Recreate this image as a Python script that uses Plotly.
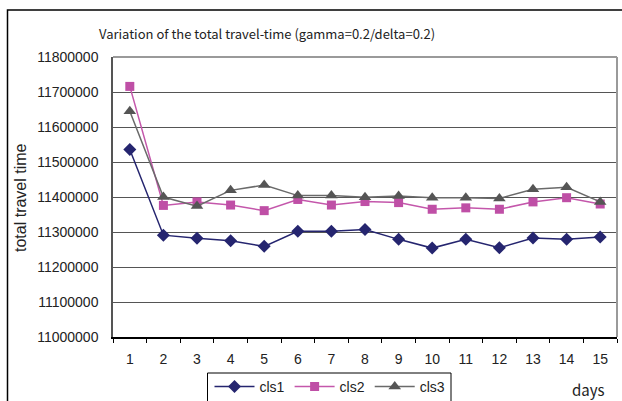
import plotly.graph_objects as go

# Daily totals for each class
days = [str(d) for d in range(1, 16)]
cls1 = [11536000, 11291000, 11282000, 11275000, 11259000, 11302000, 11302000, 11307000,
        11279000, 11254000, 11279000, 11255000, 11283000, 11279000, 11286000]
cls2 = [11716000, 11376000, 11386000, 11377000, 11361000, 11393000, 11377000, 11387000,
        11384000, 11365000, 11369000, 11365000, 11386000, 11398000, 11380000]
cls3 = [11645000, 11400000, 11374000, 11419000, 11434000, 11404000, 11404000, 11399000,
        11403000, 11398000, 11398000, 11396000, 11422000, 11428000, 11386000]
y_ticks = list(range(11000000, 11800001, 100000))

W, H = 622, 401
L, R, T, B = 113, 5, 57, 64

fig = go.Figure()
series = [
    ("cls1", cls1, "#25256f", "#25256f", "diamond", 10),
    ("cls2", cls2, "#c457ab", "#bf4fa6", "square", 9),
    ("cls3", cls3, "#6a6a6a", "#555555", "triangle-up", 11),
]
for name, vals, lc, mc, sym, sz in series:
    fig.add_trace(go.Scatter(
        x=days, y=vals, name=name, mode="lines+markers",
        line=dict(color=lc, width=1.5),
        marker=dict(symbol=sym, size=sz, color=mc, line=dict(width=0)),
    ))

pw = W - L - R
ph = H - T - B
def px_x(p):
    return (p - L) / pw
def px_y(p):
    return (H - B - p) / ph

axis_font = dict(family="Liberation Sans, Arial, sans-serif", size=14, color="#222222")
title_font = dict(family="Noto Sans CJK KR, sans-serif", size=13, color="#222222")

fig.update_layout(
    width=W, height=H,
    margin=dict(l=L, r=R, t=T, b=B, autoexpand=False),
    paper_bgcolor="white", plot_bgcolor="white",
    showlegend=True,
    legend=dict(
        orientation="h", x=px_x(330), xanchor="center", y=px_y(387), yanchor="middle",
        borderwidth=0, font=axis_font, bgcolor="rgba(0,0,0,0)",
        itemwidth=40, tracegroupgap=0,
    ),
    xaxis=dict(
        type="category", range=[-0.5, 14.5], tickson="boundaries", ticks="outside", ticklen=4,
        tickcolor="black", showline=True, linecolor="black", linewidth=1.5,
        showgrid=False, tickfont=axis_font, ticklabelstandoff=8,
        zeroline=False,
    ),
    yaxis=dict(
        range=[11000000, 11800000], tickvals=y_ticks, tickformat="d",
        showgrid=True, gridcolor="#555555", gridwidth=1,
        showline=True, linecolor="#555555", linewidth=1.5,
        ticks="", tickfont=axis_font, ticklabelstandoff=10, zeroline=False,
    ),
    shapes=[
        # plot-area frame (top and right edges)
        dict(type="line", xref="paper", yref="paper", x0=0, x1=1, y0=1, y1=1,
             line=dict(color="#9a9a9a", width=2)),
        dict(type="line", xref="paper", yref="paper", x0=1, x1=1, y0=0, y1=1,
             line=dict(color="#9a9a9a", width=2)),
        # outer chart frame
        dict(type="rect", xref="paper", yref="paper",
             x0=px_x(7.5), x1=px_x(640), y0=px_y(10), y1=px_y(420),
             line=dict(color="black", width=1.5), fillcolor="rgba(0,0,0,0)", layer="below"),
        # legend box
        dict(type="rect", xref="paper", yref="paper",
             x0=px_x(207.5), x1=px_x(451), y0=px_y(373), y1=px_y(410),
             line=dict(color="black", width=1), fillcolor="rgba(0,0,0,0)", layer="below"),
    ],
    annotations=[
        dict(text="Variation of the total travel-time (gamma=0.2/delta=0.2)",
             xref="paper", yref="paper", x=px_x(97), y=px_y(33),
             xanchor="left", yanchor="middle", showarrow=False, font=title_font),
        dict(text="total travel time", textangle=-90,
             xref="paper", yref="paper", x=px_x(20), y=px_y(198),
             xanchor="center", yanchor="middle", showarrow=False,
             font=dict(axis_font, size=16)),
        dict(text="days", xref="paper", yref="paper", x=px_x(588), y=px_y(389),
             xanchor="center", yanchor="middle", showarrow=False,
             font=dict(title_font, size=15)),
    ],
)

fig.write_html("out.html")
